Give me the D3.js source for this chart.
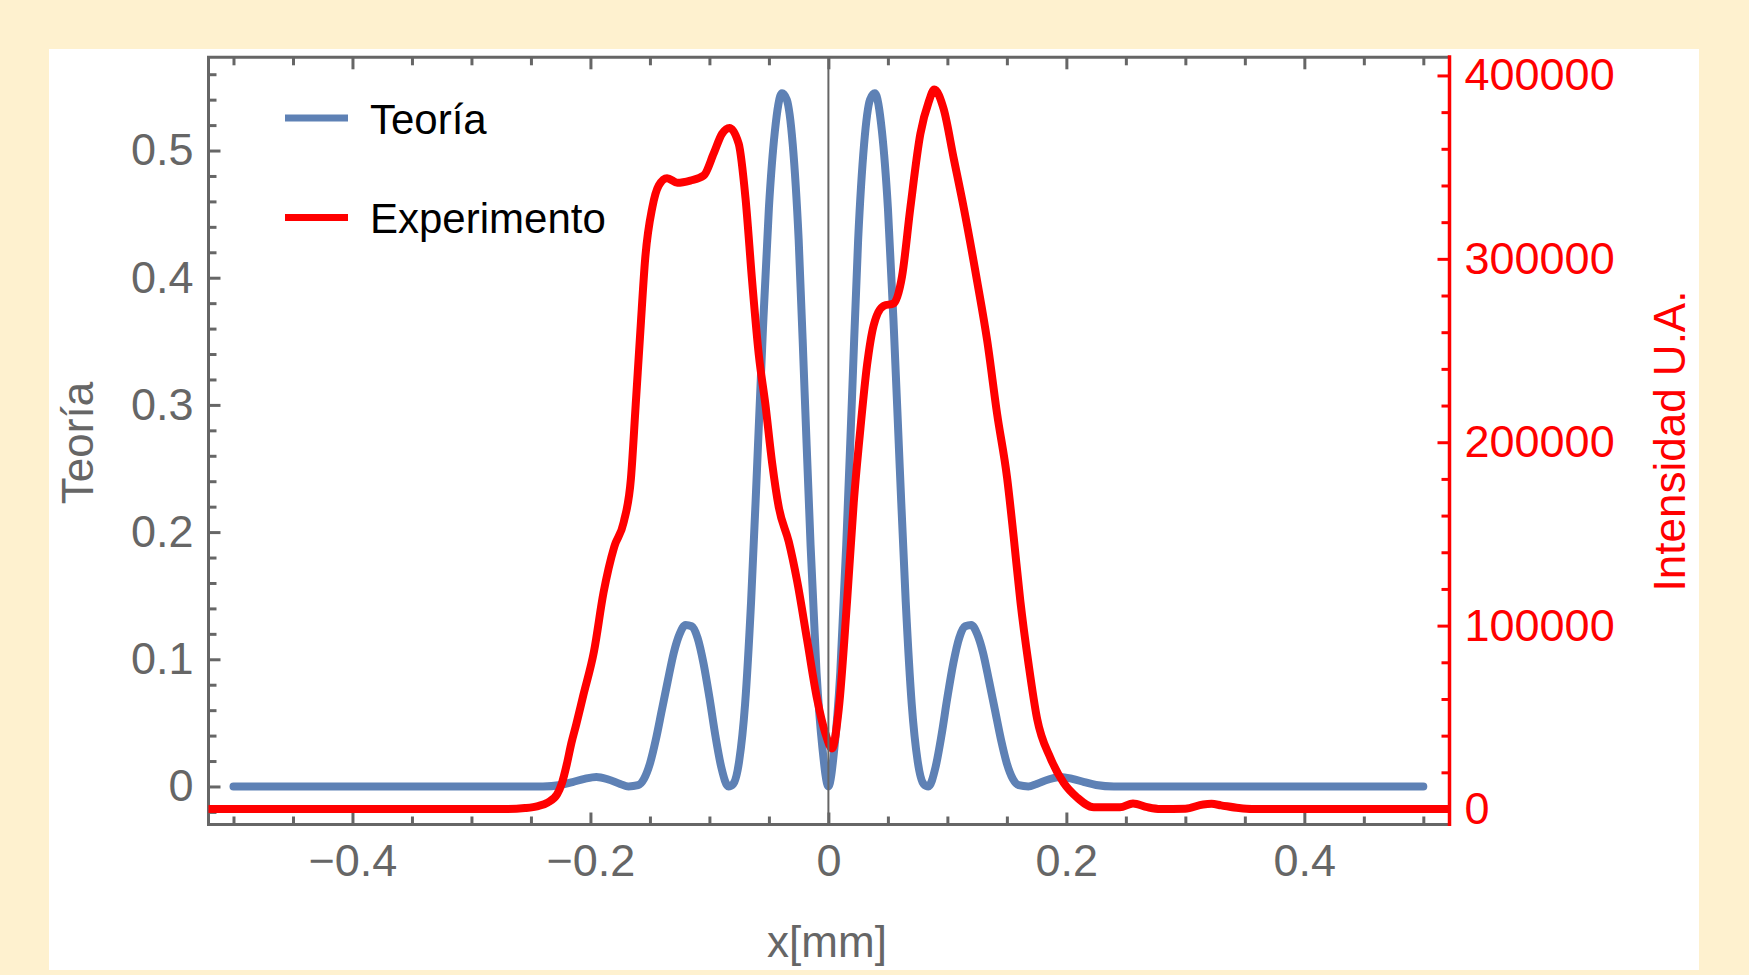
<!DOCTYPE html>
<html>
  <head>
    <meta http-equiv="Content-Type" content="text/html;charset=utf-8">
    <title>Teoría vs Experimento</title>
    <script src="https://cdn.jsdelivr.net/npm/d3@7"></script>
    <style type="text/css">
body {
    margin: 0;
    background: #fef1cf;
}
svg text {
    font-family: "Liberation Sans", Arial, sans-serif;
}
.axis path.domain {
    display: none;
}
.axis line {
    stroke: #666;
    stroke-width: 3px;
}
.axis text {
    fill: #666;
    font-size: 45px;
}
.axis.right line {
    stroke: #f00;
}
.axis.right text {
    fill: #f00;
}
    </style>
  </head>
  <body>
    <script type="text/javascript">
// theory curve (left axis)
var theoryX = [-0.5, -0.3, -0.24, -0.225, -0.215, -0.205, -0.195, -0.185, -0.175, -0.168,
    -0.16, -0.155, -0.15, -0.145, -0.14, -0.135, -0.13, -0.125, -0.12, -0.115, -0.11, -0.105,
    -0.1, -0.095, -0.09, -0.084, -0.08, -0.075, -0.07, -0.065, -0.06, -0.055, -0.05, -0.045,
    -0.039, -0.035, -0.03, -0.025, -0.02, -0.015, -0.01, -0.005, 0,
    0.005, 0.01, 0.015, 0.02, 0.025, 0.03, 0.035, 0.039, 0.045, 0.05, 0.055, 0.06, 0.065,
    0.07, 0.075, 0.08, 0.084, 0.09, 0.095, 0.1, 0.105, 0.11, 0.115, 0.12, 0.125, 0.13,
    0.135, 0.14, 0.145, 0.15, 0.155, 0.16, 0.168, 0.175, 0.185, 0.195, 0.205, 0.215, 0.225,
    0.24, 0.3, 0.5];
var theoryY = [0, 0, 0, 0.0012, 0.0035, 0.006, 0.0075, 0.0055, 0.002, 0,
    0.001, 0.006, 0.018, 0.037, 0.06, 0.083, 0.105, 0.12, 0.127, 0.126, 0.117, 0.097,
    0.07, 0.04, 0.015, 0, 0.002, 0.02, 0.065, 0.145, 0.25, 0.36, 0.455, 0.515,
    0.545, 0.54, 0.505, 0.43, 0.31, 0.19, 0.09, 0.03, 0,
    0.03, 0.09, 0.19, 0.31, 0.43, 0.505, 0.54, 0.545, 0.515, 0.455, 0.36, 0.25, 0.145,
    0.065, 0.02, 0.002, 0, 0.015, 0.04, 0.07, 0.097, 0.117, 0.126, 0.127, 0.12, 0.105,
    0.083, 0.06, 0.037, 0.018, 0.006, 0.001, 0, 0.002, 0.0055, 0.0075, 0.006, 0.0035, 0.0012,
    0, 0, 0];

// experiment (right axis)
var expX = [-0.53, -0.4, -0.3, -0.27, -0.255, -0.244, -0.236, -0.228, -0.224, -0.22,
    -0.216, -0.212, -0.206, -0.197, -0.189, -0.18, -0.172, -0.166, -0.162, -0.158, -0.154,
    -0.148, -0.1426, -0.1356, -0.127, -0.116, -0.1048, -0.0964, -0.0894, -0.0832, -0.0754,
    -0.0697, -0.0641, -0.0585, -0.053, -0.0473, -0.0417, -0.0333, -0.0263, -0.0179, -0.0095,
    -0.0025, 0.003, 0.0087, 0.0157, 0.0213, 0.0269, 0.0325, 0.038, 0.0465, 0.0549, 0.0619,
    0.0689, 0.0773, 0.0843, 0.089, 0.0969, 0.1053, 0.1137, 0.125, 0.1334, 0.1418, 0.1502,
    0.1557, 0.1613, 0.1683, 0.1754, 0.1866, 0.1977, 0.209, 0.223, 0.245, 0.256, 0.268,
    0.279, 0.3, 0.315, 0.322, 0.33, 0.345, 0.356, 0.4, 0.53];
var expY = [0, 0, 0, 0, 500, 1600, 3500, 8000, 14000, 24000,
    36000, 46000, 62000, 86000, 118000, 143000, 156500, 180000, 220000, 261000, 300000,
    328000, 340000, 344000, 341500, 342700, 345400, 357500, 368200, 371400, 362800,
    333300, 287800, 247600, 220800, 188700, 164500, 145700, 124300, 92200, 60000,
    41200, 33000, 54500, 113500, 167100, 207400, 242200, 263700, 274400, 275700, 290500,
    328000, 368200, 385600, 392300, 381600, 354800, 328000, 287800, 255600, 215400, 180500,
    148400, 113500, 78700, 49200, 27800, 14300, 6300, 900, 900, 3000, 1000,
    0, 200, 2500, 2800, 2000, 500, 0, 0, 0];

// ticks
var xLabels = [-0.4, -0.2, 0, 0.2, 0.4],
    yLabels = [0, 0.1, 0.2, 0.3, 0.4, 0.5],
    rLabels = [0, 100000, 200000, 300000, 400000];

var W = 1749, H = 975,
    pL = 208.5, pT = 57.3, pR = 1449.5, pB = 824.5;

var x = d3.scaleLinear().domain([-0.521, 0.522]).range([pL, pR]),
    y = d3.scaleLinear().domain([-0.0299, 0.5733]).range([pB, pT]),
    yr = d3.scaleLinear().domain([-8450, 409900]).range([pB, pT]);

var svg = d3.select('body').append('svg')
    .attr('width', W)
    .attr('height', H)
    .style('display', 'block');

svg.append('rect')
    .attr('x', 49).attr('y', 49)
    .attr('width', 1650).attr('height', 921)
    .attr('fill', '#fff');

svg.append('clipPath').attr('id', 'plot')
  .append('rect')
    .attr('x', pL).attr('y', pT)
    .attr('width', pR - pL).attr('height', pB - pT);

// minor / major tick values
var xMinor = d3.range(-10, 11).map(function(i) { return i * 0.05 })
        .filter(function(v) { return Math.abs(v / 0.2 - Math.round(v / 0.2)) > 1e-6 }),
    yMinor = d3.range(-1, 29).map(function(i) { return i * 0.02 })
        .filter(function(v) { return Math.abs(v / 0.1 - Math.round(v / 0.1)) > 1e-6 }),
    rMinor = d3.range(0, 21).map(function(i) { return i * 20000 })
        .filter(function(v) { return v % 100000 != 0 });

var fmt = d3.format('');

function drawAxis(axis, cls, tx, ty) {
    svg.append('g')
        .attr('class', 'axis ' + cls)
        .attr('transform', 'translate(' + tx + ',' + ty + ')')
        .call(axis);
}

// bottom & top
drawAxis(d3.axisBottom(x).tickValues(xLabels).tickSize(-12).tickPadding(20).tickFormat(fmt), 'bottom', 0, pB);
drawAxis(d3.axisBottom(x).tickValues(xMinor).tickSize(-8).tickFormat(''), 'bottom', 0, pB);
drawAxis(d3.axisTop(x).tickValues(xLabels).tickSize(-12).tickFormat(''), 'top', 0, pT);
drawAxis(d3.axisTop(x).tickValues(xMinor).tickSize(-8).tickFormat(''), 'top', 0, pT);
// left
drawAxis(d3.axisLeft(y).tickValues(yLabels).tickSize(-12).tickPadding(15).tickFormat(fmt), 'left', pL, 0);
drawAxis(d3.axisLeft(y).tickValues(yMinor).tickSize(-8).tickFormat(''), 'left', pL, 0);
// right (red)
drawAxis(d3.axisRight(yr).tickValues(rLabels).tickSize(-12).tickPadding(15).tickFormat(fmt), 'right', pR, 0);
drawAxis(d3.axisRight(yr).tickValues(rMinor).tickSize(-8).tickFormat(''), 'right', pR, 0);

// frame
svg.append('path')
    .attr('d', 'M' + pR + ',' + pT + 'H' + pL + 'V' + pB + 'H' + pR)
    .attr('fill', 'none')
    .attr('stroke', '#666')
    .attr('stroke-width', 3);

// curves
var plot = svg.append('g').attr('clip-path', 'url(#plot)');

var theoryLine = d3.line()
    .x(function(d) { return x(d[0]) })
    .y(function(d) { return y(d[1]) })
    .curve(d3.curveMonotoneX);

var expLine = d3.line()
    .x(function(d) { return x(d[0]) })
    .y(function(d) { return yr(d[1]) })
    .curve(d3.curveMonotoneX);

plot.append('path')
    .datum(d3.zip(theoryX, theoryY))
    .attr('d', theoryLine)
    .attr('fill', 'none')
    .attr('stroke', '#5e81b5')
    .attr('stroke-width', 8)
    .attr('stroke-linecap', 'round')
    .attr('stroke-linejoin', 'round');

plot.append('path')
    .datum(d3.zip(expX, expY))
    .attr('d', expLine)
    .attr('fill', 'none')
    .attr('stroke', '#f00')
    .attr('stroke-width', 8)
    .attr('stroke-linecap', 'round')
    .attr('stroke-linejoin', 'round');

// x = 0 axis line
svg.append('line')
    .attr('x1', x(0)).attr('x2', x(0))
    .attr('y1', pT).attr('y2', pB)
    .attr('stroke', '#666')
    .attr('stroke-width', 2);

// red right axis line
svg.append('line')
    .attr('x1', pR).attr('x2', pR)
    .attr('y1', pT - 2).attr('y2', pB + 1.5)
    .attr('stroke', '#f00')
    .attr('stroke-width', 3.5);

// axis titles
svg.append('text')
    .attr('transform', 'translate(93,443) rotate(-90)')
    .attr('text-anchor', 'middle')
    .attr('font-size', 44)
    .attr('fill', '#666')
    .text('Teoría');

svg.append('text')
    .attr('transform', 'translate(1685,441) rotate(-90)')
    .attr('text-anchor', 'middle')
    .attr('font-size', 44)
    .attr('fill', '#f00')
    .text('Intensidad U.A.');

svg.append('text')
    .attr('x', 827).attr('y', 957)
    .attr('text-anchor', 'middle')
    .attr('font-size', 44)
    .attr('fill', '#666')
    .text('x[mm]');

// legend
var legend = [['Teoría', '#5e81b5', 118], ['Experimento', '#f00', 217.5]];
var lg = svg.selectAll('g.legend')
    .data(legend)
  .enter().append('g')
    .attr('class', 'legend')
    .attr('transform', function(d) { return 'translate(285,' + d[2] + ')' });

lg.append('line')
    .attr('x1', 0).attr('x2', 63)
    .attr('stroke', function(d) { return d[1] })
    .attr('stroke-width', 7);

lg.append('text')
    .attr('x', 85).attr('y', 15.5)
    .attr('font-size', 42)
    .attr('fill', '#000')
    .text(function(d) { return d[0] });
    </script>
  </body>
</html>
